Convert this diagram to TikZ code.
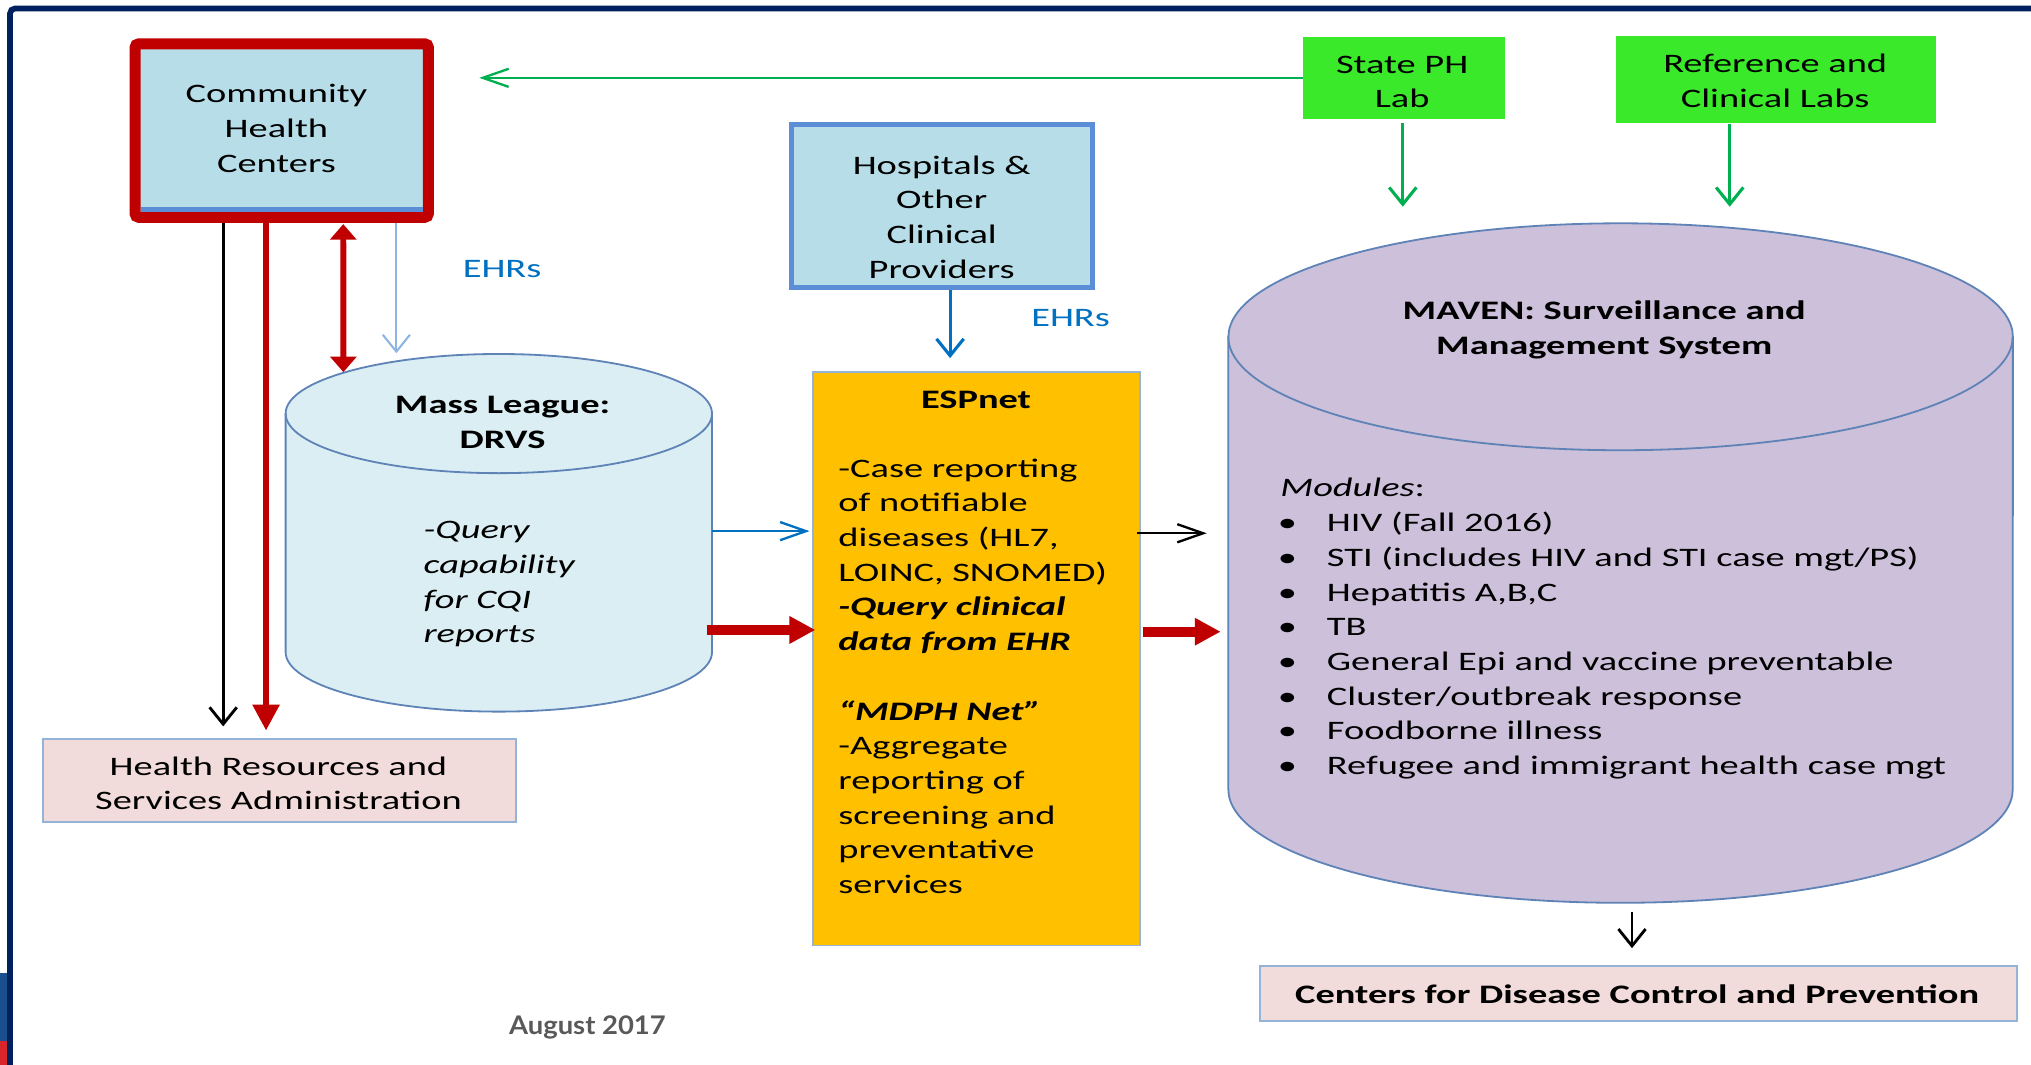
\documentclass[tikz,border=0pt]{standalone}
\usepackage{fontspec}
\setmainfont{Carlito}[FakeStretch=1.44]
\newfontfamily\gillfont{Lato}[FakeStretch=1.07]
\usetikzlibrary{arrows.meta,calc}

\definecolor{navyc}{HTML}{002060}
\definecolor{redc}{HTML}{C00000}
\definecolor{chcfill}{HTML}{B7DEE8}
\definecolor{mlfill}{HTML}{DAEEF3}
\definecolor{cylline}{HTML}{5F83B7}
\definecolor{mavfill}{HTML}{CCC0DA}
\definecolor{espfill}{HTML}{FFC000}
\definecolor{pinkfill}{HTML}{F2DCDB}
\definecolor{lightline}{HTML}{95B3D7}
\definecolor{hospline}{HTML}{5B8ED6}
\definecolor{greenbox}{HTML}{3BE92B}
\definecolor{greenarr}{HTML}{00B050}
\definecolor{ehrblue}{HTML}{0070C0}
\definecolor{lightarr}{HTML}{8EB4E3}
\definecolor{grayt}{HTML}{595959}
\definecolor{logoblue}{HTML}{1A4F8F}
\definecolor{logored}{HTML}{D9262B}

\newcommand\modbullet{\makebox[18pt][l]{\hspace{-1pt}\textbullet}}
\newcommand\nodestrut{\rule[-2.02pt]{0pt}{13.4pt}}

\begin{document}
\begin{tikzpicture}[x=0.5pt,y=-0.5pt,
  every node/.style={font=\fontsize{10.3}{13.4}\selectfont, inner sep=0pt, outer sep=0pt,
    execute at begin node=\nodestrut, execute at end node=\nodestrut},
  bfnode/.style={font=\fontsize{10.3}{13.4}\selectfont\bfseries},
  pinkbox/.style={draw=lightline, fill=pinkfill, line width=0.7pt},
  greenbx/.style={fill=greenbox},
  cyl/.style={draw=cylline, line width=0.7pt},
  vhead/.style={-{Straight Barb[length=6.5pt,width=10.5pt]}},
  hhead/.style={-{Straight Barb[length=10pt,width=7pt]}},
  redv/.style={redc, line width=2.3pt, -{Triangle[length=10pt,width=10pt]}},
  redh/.style={redc, line width=3.9pt, -{Triangle[length=10pt,width=10pt]}},
  ehrlabel/.style={text=ehrblue}]

\useasboundingbox (0,0) rectangle (1568,822);

% frame
\draw[navyc, line width=2.2pt, rounded corners=2pt] (7.7,830) -- (7.7,6.5) -- (1575,6.5);
\fill[logoblue] (0,751) rectangle (5.3,804);
\fill[logored] (0,804) rectangle (5.3,822);

% Community Health Centers
\node[draw=redc, fill=chcfill, line width=4.25pt, minimum width=113.25pt, minimum height=67pt,
      rounded corners=1.5pt, outer sep=2.125pt] (chc) at (217.5,100.8) {};
\draw[hospline, line width=1.75pt] (108.6,161.8) -- (326.7,161.8);
\node[align=center] (chctext) at (213.4,101) {Community\\Health\\Centers};

% State PH Lab / Reference labs
\node[greenbx, minimum width=78pt, minimum height=31.8pt] (sph) at (1084,60.1) {};
\node[align=center] (sphtext) at (1082.5,65.3) {State PH\\Lab};
\node[greenbx, minimum width=123.55pt, minimum height=33.6pt] (ref) at (1371.2,61.1) {};
\node[align=center] (reftext) at (1370.5,64.5) {Reference and\\Clinical Labs};

% Hospitals
\node[draw=hospline, fill=chcfill, line width=2pt, minimum width=116.25pt, minimum height=63pt,
      outer sep=1pt] (hosp) at (727.3,159) {};
\node[align=center] (hosptext) at (727,169.5) {Hospitals \&\\Other\\Clinical\\Providers};

% Mass League cylinder
\node[minimum width=164.6pt, minimum height=138.05pt] (ml) at (385.1,411.35) {};
\path[cyl, fill=mlfill] (220.5,319.3) -- (220.5,503.4)
  arc[start angle=180,end angle=360,x radius=82.3pt,y radius=23pt] -- (549.7,319.3)
  arc[start angle=0,end angle=180,x radius=82.3pt,y radius=23pt] -- cycle;
\draw[cyl] (220.5,319.3) arc[start angle=180,end angle=360,x radius=82.3pt,y radius=23pt];
\node[bfnode, align=center] (mltitle) at (388,328) {Mass League:\\DRVS};
\node[font=\fontsize{10.3}{13.4}\selectfont\itshape, anchor=west, align=left] (mlbody) at (327,451.5)
  {-Query\\capability\\for CQI\\reports};

% ESPnet
\node[draw=lightline, fill=espfill, line width=0.6pt, minimum width=126.2pt, minimum height=221.5pt] (esp) at (753.8,508.5) {};
\node[bfnode] (esptitle) at (753.5,306) {ESPnet};
\node[anchor=west, align=left] (esptext) at (647.3,524)
  {-Case reporting\\of notifiable\\diseases (HL7,\\LOINC, SNOMED)\\
   \textbf{\textit{-Query clinical}}\\\textbf{\textit{data from EHR}}\\[13.4pt]
   \textbf{\textit{“MDPH Net”}}\\-Aggregate\\reporting of\\screening and\\preventative\\services};

% MAVEN cylinder
\node[minimum width=302.85pt, minimum height=262.3pt] (mav) at (1251.15,434.7) {};
\path[cyl, fill=mavfill] (948.3,260) -- (948.3,609.4)
  arc[start angle=180,end angle=360,x radius=151.4pt,y radius=43.8pt] -- (1554,260)
  arc[start angle=0,end angle=180,x radius=151.4pt,y radius=43.8pt] -- cycle;
\draw[cyl] (948.3,260) arc[start angle=180,end angle=360,x radius=151.4pt,y radius=43.8pt];
\node[bfnode, align=center] (mavtitle) at (1238.5,255) {MAVEN: Surveillance and\\Management System};
\node[anchor=west, align=left] (modlist) at (988.5,485.7)
  {\textit{Modules}:\\
   \modbullet HIV (Fall 2016)\\
   \modbullet STI (includes HIV and STI case mgt/PS)\\
   \modbullet Hepatitis A,B,C\\
   \modbullet TB\\
   \modbullet General Epi and vaccine preventable\\
   \modbullet Cluster/outbreak response\\
   \modbullet Foodborne illness\\
   \modbullet Refugee and immigrant health case mgt};

% CDC and HRSA
\node[pinkbox, minimum width=292.2pt, minimum height=21.1pt] (cdc) at (1264.9,766.9) {};
\node[bfnode] (cdctext) at (1264,765) {Centers for Disease Control and Prevention};
\node[pinkbox, minimum width=182.75pt, minimum height=31.8pt] (hrsa) at (215.75,602.6) {};
\node[align=center] (hrsatext) at (215,606.6) {Health Resources and\\Services Administration};

% EHR labels
\node[ehrlabel] (ehr1) at (387.6,205) {EHRs};
\node[ehrlabel] (ehr2) at (826.5,243) {EHRs};

% date
\node[anchor=base, font=\gillfont\fontsize{9.9}{12}\selectfont\bfseries, text=grayt] (date) at (453.5,799) {August 2017};

% connectors
\draw[greenarr, line width=0.9pt, hhead] (sph.west) -- ($(sph.west -| chc.east)+(35,0)$);
\draw[greenarr, line width=1.2pt, vhead] ($(sph.south)+(-1,3)$) -- ($(sph.south |- mav.north)+(-1,-12.8)$);
\draw[greenarr, line width=1.2pt, vhead] ($(ref.south)+(-35.8,1)$) -- ($(ref.south |- mav.north)+(-35.8,-12.8)$);
\draw[ehrblue, line width=1.2pt, vhead] ($(hosp.south)+(6.2,0)$) -- ($(hosp.south |- esp.north)+(6.2,-10.5)$);
\draw[lightarr, line width=0.8pt, vhead] ($(chc.south)+(88.5,0)$) -- ($(chc.south |- ml.north)+(88.5,-0.6)$);
\draw[redc, line width=2.3pt, {Triangle[length=6pt,width=10pt]}-{Triangle[length=6pt,width=10pt]}]
  ($(chc.south)+(47.5,1)$) -- ($(ml.north)+(-120,14)$);
\draw[black, line width=1.1pt, vhead] ($(chc.south)+(-45.2,0)$) -- ($(chc.south |- hrsa.north)+(-45.2,-10)$);
\draw[redv] ($(chc.south)+(-12.1,0)$) -- ($(chc.south |- hrsa.north)+(-12.1,-6.8)$);
\draw[ehrblue, line width=0.9pt, hhead] ($(ml.east)+(0,-1.3)$) -- ($(ml.east -| esp.west)+(-2.6,-1.3)$);
\draw[redh] ($(ml.east)+(-3.7,75)$) -- ($(ml.east -| esp.west)+(1.9,75)$);
\draw[black, line width=0.9pt, hhead] ($(esp.east)+(-2,-96.8)$) -- ($(esp.east -| mav.west)+(-16.7,-96.8)$);
\draw[redh] ($(esp.east)+(2.2,-20.8)$) -- ($(esp.east -| mav.west)+(-5.9,-20.8)$);
\draw[black, line width=1.1pt, vhead] ($(mav.south)+(8.8,6.8)$) -- ($(mav.south |- cdc.north)+(8.8,-13.8)$);
\end{tikzpicture}
\end{document}
